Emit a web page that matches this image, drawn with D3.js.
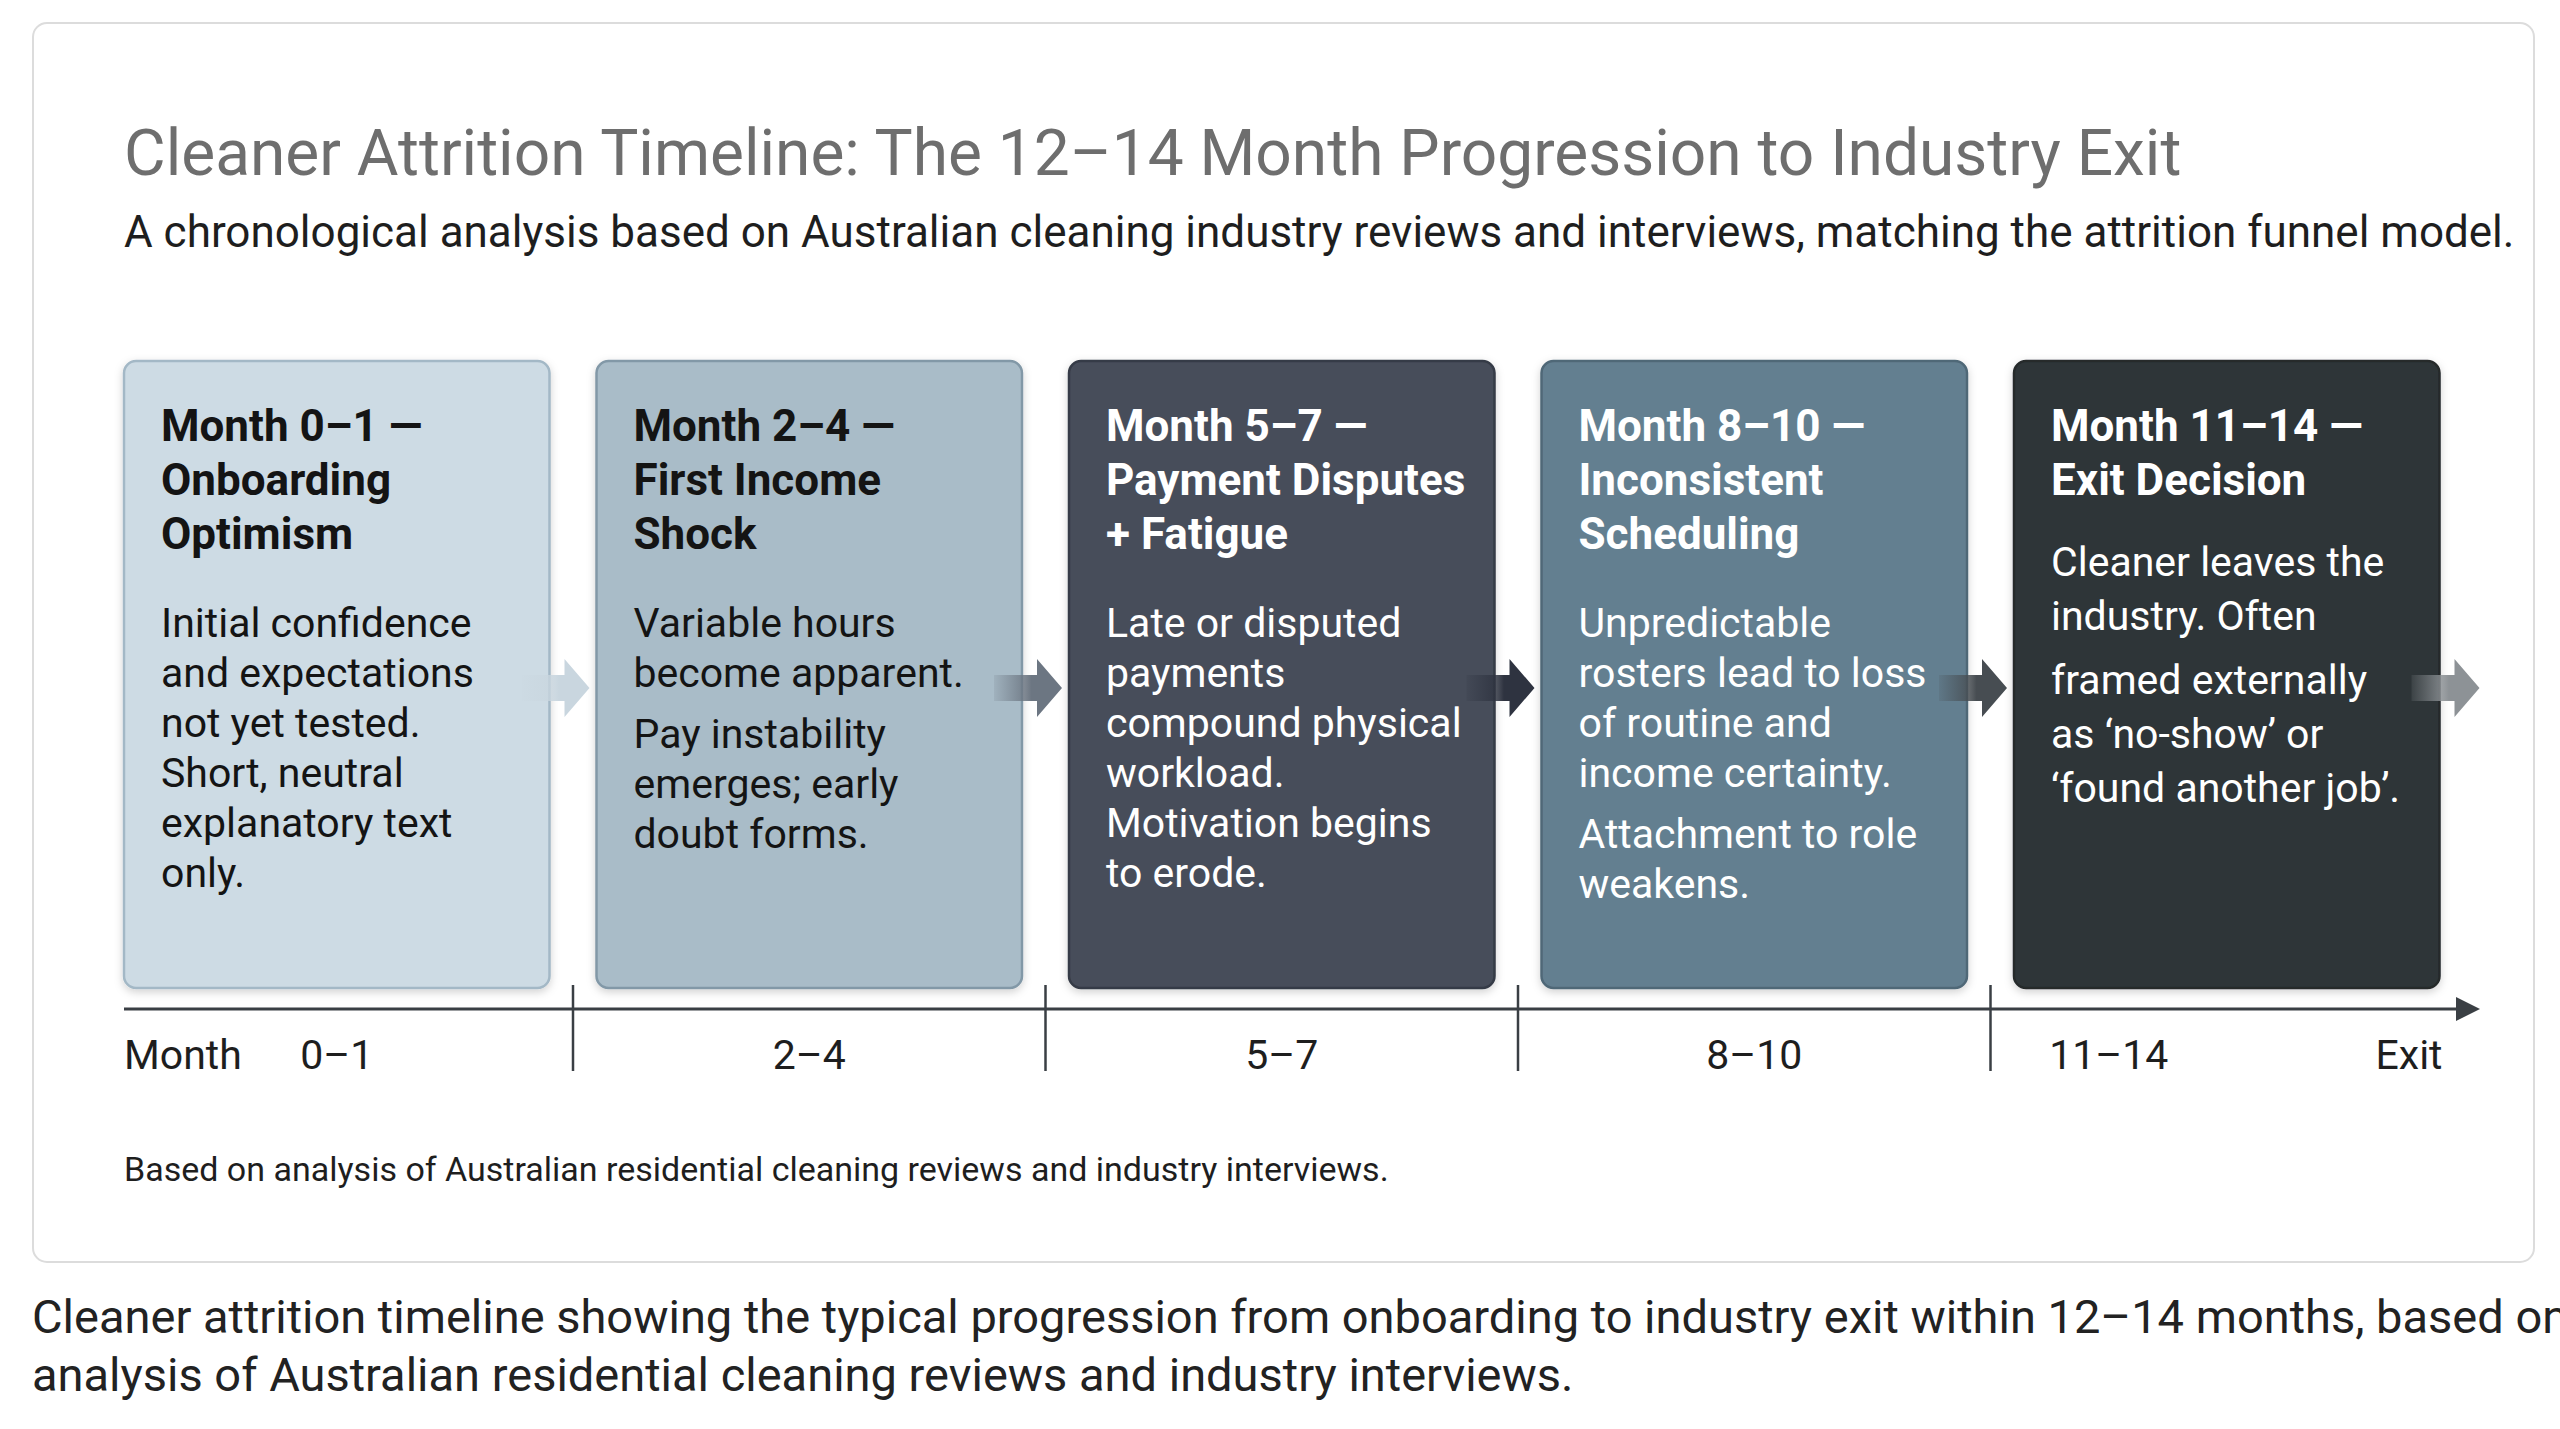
<!DOCTYPE html>
<html>
<head>
<meta charset="utf-8">
<script src="https://cdn.jsdelivr.net/npm/d3@7"></script>
<style>
  body { margin: 0; background: #fff; }
  svg { display: block; font-family: Roboto, "Open Sans", sans-serif; }
</style>
</head>
<body>
<svg id="chart" width="2560" height="1429"></svg>
<script>
// stages, left to right
const stages = ["0–1", "2–4", "5–7", "8–10", "11–14"];
const headings = [
  ["Month 0–1 —", "Onboarding", "Optimism"],
  ["Month 2–4 —", "First Income", "Shock"],
  ["Month 5–7 —", "Payment Disputes", "+ Fatigue"],
  ["Month 8–10 —", "Inconsistent", "Scheduling"],
  ["Month 11–14 —", "Exit Decision"]
];
// paragraphs per stage
const bodies = [
  [["Initial confidence", "and expectations", "not yet tested.", "Short, neutral", "explanatory text", "only."]],
  [["Variable hours", "become apparent."], ["Pay instability", "emerges; early", "doubt forms."]],
  [["Late or disputed", "payments", "compound physical", "workload.", "Motivation begins", "to erode."]],
  [["Unpredictable", "rosters lead to loss", "of routine and", "income certainty."], ["Attachment to role", "weakens."]],
  [["Cleaner leaves the", "industry. Often"], ["framed externally", "as ‘no-show’ or", "‘found another job’."]]
];
const fills = ["#cddbe4", "#a9bcc8", "#474d5a", "#647f90", "#2f3638"];
const strokes = ["#a3b8c6", "#8298a7", "#363b46", "#4f6777", "#252a2c"];
const textColors = ["#141414", "#141414", "#ffffff", "#ffffff", "#ffffff"];
const arrowColors = ["#c9d6df", "#6c7682", "#2e3340", "#474d52", "#8d9296"];
const axisLabels = ["Month", "0–1", "2–4", "5–7", "8–10", "11–14", "Exit"];

const svg = d3.select("#chart");
const defs = svg.append("defs");

const shadow = defs.append("filter").attr("id", "shadow")
  .attr("x", "-10%").attr("y", "-10%").attr("width", "120%").attr("height", "120%");
shadow.append("feDropShadow").attr("dx", 0).attr("dy", 3).attr("stdDeviation", 4)
  .attr("flood-color", "#000").attr("flood-opacity", 0.18);

arrowColors.forEach((c, i) => {
  const g = defs.append("linearGradient").attr("id", "ag" + i);
  g.append("stop").attr("offset", "0%").attr("stop-color", c).attr("stop-opacity", 0.15);
  g.append("stop").attr("offset", "55%").attr("stop-color", c).attr("stop-opacity", 1);
});

// outer card
svg.append("rect")
  .attr("x", 33).attr("y", 23).attr("width", 2501).attr("height", 1239)
  .attr("rx", 14).attr("fill", "#fff").attr("stroke", "#dcdcdc").attr("stroke-width", 2);

svg.append("text").attr("x", 124).attr("y", 175)
  .attr("font-size", 64).attr("fill", "#6e6e6e")
  .text("Cleaner Attrition Timeline: The 12–14 Month Progression to Industry Exit");
svg.append("text").attr("x", 124).attr("y", 247)
  .attr("font-size", 44).attr("fill", "#1e1e1e")
  .text("A chronological analysis based on Australian cleaning industry reviews and interviews, matching the attrition funnel model.");

const x = d3.scaleLinear().domain([0, stages.length]).range([124, 2486.5]);
const gap = 47;
const boxW = x(1) - x(0) - gap;
const boxTop = 361, boxBottom = 988;

const box = svg.selectAll("g.stage").data(stages).join("g")
  .attr("class", "stage")
  .attr("transform", (d, i) => `translate(${x(i)},${boxTop})`);

box.append("rect")
  .attr("width", boxW).attr("height", boxBottom - boxTop).attr("rx", 12)
  .attr("fill", (d, i) => fills[i]).attr("stroke", (d, i) => strokes[i]).attr("stroke-width", 2.5)
  .attr("filter", "url(#shadow)");

box.each(function (d, i) {
  const g = d3.select(this);
  const col = textColors[i];
  headings[i].forEach((line, j) => {
    g.append("text").attr("x", 37).attr("y", 80 + j * 54)
      .attr("font-size", 44).attr("font-weight", 700).attr("fill", col).text(line);
  });
  let y = headings[i].length === 2 ? 215 : 276;
  const lh = i === 4 ? 54 : 50;
  bodies[i].forEach((para, p) => {
    if (p > 0) y += i === 4 ? 10 : 11;
    para.forEach(line => {
      g.append("text").attr("x", 37).attr("y", y)
        .attr("font-size", 41).attr("fill", col).text(line);
      y += lh;
    });
  });
});

// arrows between stages
const arrowY = 688;
svg.selectAll("path.arrow").data(stages).join("path")
  .attr("class", "arrow")
  .attr("fill", (d, i) => `url(#ag${i})`)
  .attr("d", (d, i) => {
    const x0 = x(i + 1) - gap - 28;
    const x1 = x(i + 1) - gap + 15;
    const x2 = x(i + 1) - gap + 40;
    return `M${x0},${arrowY - 13}H${x1}V${arrowY - 29}L${x2},${arrowY}L${x1},${arrowY + 29}V${arrowY + 13}H${x0}Z`;
  });

// timeline axis
const axisY = 1009;
svg.append("line").attr("x1", 124).attr("x2", 2462).attr("y1", axisY).attr("y2", axisY)
  .attr("stroke", "#3a3f44").attr("stroke-width", 3);
svg.append("path").attr("fill", "#3a3f44")
  .attr("d", `M2456,${axisY - 12}L2480,${axisY}L2456,${axisY + 12}Z`);

const bounds = d3.range(1, stages.length).map(i => x(i) - gap / 2);
svg.selectAll("line.tick").data(bounds).join("line")
  .attr("class", "tick")
  .attr("x1", d => d).attr("x2", d => d).attr("y1", 985).attr("y2", 1071)
  .attr("stroke", "#3a3f44").attr("stroke-width", 2.5);

const labelX = [
  { t: axisLabels[0], x: 124, a: "start" },
  ...stages.map((s, i) => ({ t: s, x: x(i) + boxW / 2 + (i === 4 ? -118 : 0), a: "middle" })),
  { t: axisLabels[6], x: 2409, a: "middle" }
];
svg.selectAll("text.axlab").data(labelX).join("text")
  .attr("class", "axlab")
  .attr("x", d => d.x).attr("y", 1069).attr("text-anchor", d => d.a)
  .attr("font-size", 41).attr("fill", "#1e1e1e").text(d => d.t);

svg.append("text").attr("x", 124).attr("y", 1181)
  .attr("font-size", 34).attr("fill", "#1e1e1e")
  .text("Based on analysis of Australian residential cleaning reviews and industry interviews.");

// caption below the card
const caption = [
  "Cleaner attrition timeline showing the typical progression from onboarding to industry exit within 12–14 months, based on",
  "analysis of Australian residential cleaning reviews and industry interviews."
];
svg.selectAll("text.cap").data(caption).join("text")
  .attr("class", "cap")
  .attr("x", 32).attr("y", (d, i) => 1333 + i * 58)
  .attr("font-size", 47).attr("fill", "#222").text(d => d);
</script>
</body>
</html>
